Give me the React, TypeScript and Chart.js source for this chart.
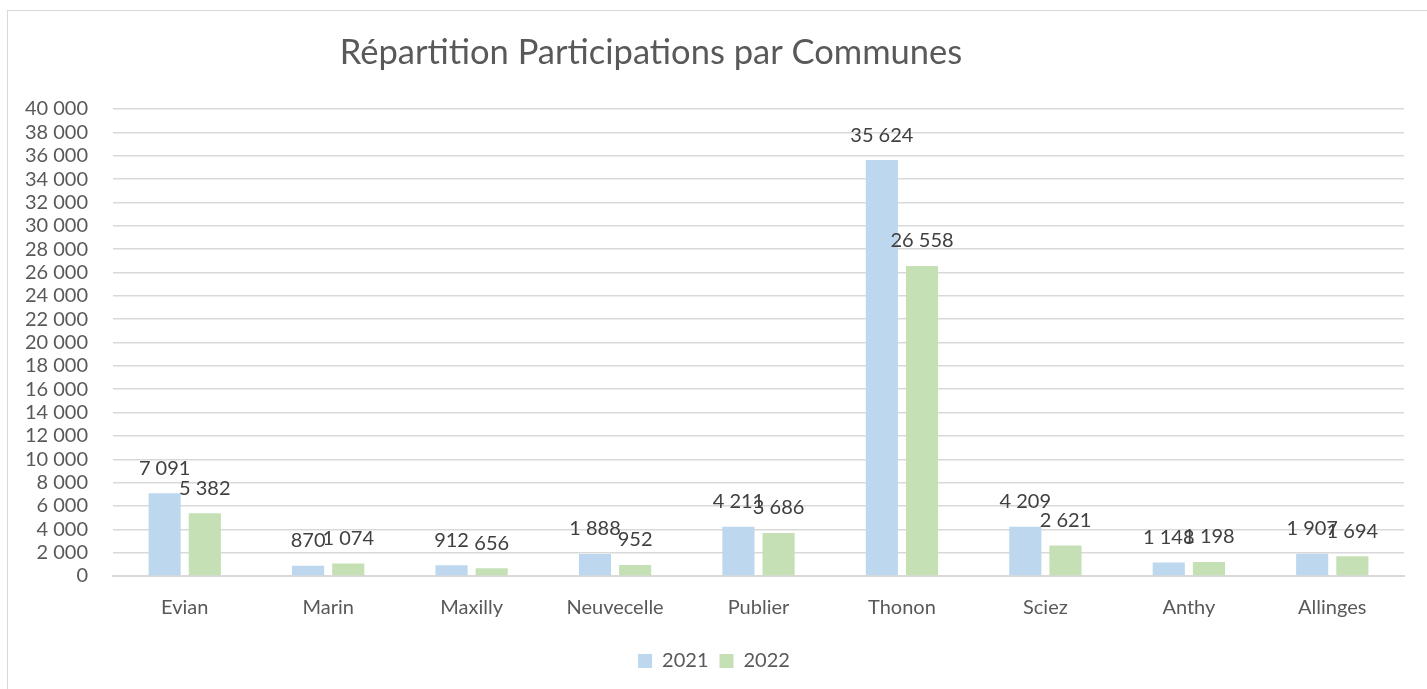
import React, { useEffect, useRef } from "react";
import { Chart, registerables } from "chart.js";

Chart.register(...registerables);

const TITLE = "Répartition Participations par Communes";
const communes = ["Evian", "Marin", "Maxilly", "Neuvecelle", "Publier", "Thonon", "Sciez", "Anthy", "Allinges"];
const values2021 = [7091, 870, 912, 1888, 4211, 35624, 4209, 1148, 1907];
const values2022 = [5382, 1074, 656, 952, 3686, 26558, 2621, 1198, 1694];
const seriesLabels = ["2021", "2022"];
const yMax = 40000;
const yStep = 2000;

const FONT = "Lato, 'Open Sans', sans-serif";

const fmt = (n: number) => String(n).replace(/\B(?=(\d{3})+(?!\d))/g, " ");

const titlePlugin = {
  id: "customTitle",
  afterDraw(chart: any) {
    const ctx = chart.ctx;
    ctx.save();
    ctx.font = `34.5px ${FONT}`;
    ctx.fillStyle = "#595959";
    ctx.textAlign = "center";
    ctx.textBaseline = "middle";
    ctx.fillText(TITLE, 651, 53);
    ctx.restore();
  },
};

const labelPlugin = {
  id: "barValues",
  afterDatasetsDraw(chart: any) {
    const ctx = chart.ctx;
    ctx.save();
    ctx.font = `20px ${FONT}`;
    ctx.fillStyle = "#404040";
    ctx.textAlign = "center";
    ctx.textBaseline = "middle";
    chart.data.datasets.forEach((ds: any, i: number) => {
      const meta = chart.getDatasetMeta(i);
      meta.data.forEach((el: any, j: number) => {
        ctx.fillText(fmt(ds.data[j]), el.x, el.y - 25);
      });
    });
    ctx.restore();
  },
};

export default function App() {
  const ref = useRef<HTMLCanvasElement>(null);
  useEffect(() => {
    if (!ref.current) return;
    const chart = new Chart(ref.current, {
      type: "bar",
      data: {
        labels: communes,
        datasets: [
          { label: seriesLabels[0], data: values2021, backgroundColor: "#bdd7ee" },
          { label: seriesLabels[1], data: values2022, backgroundColor: "#c5e0b4" },
        ],
      },
      options: {
        animation: false,
        responsive: false,
        maintainAspectRatio: false,
        devicePixelRatio: 1,
        layout: { padding: { top: 109, left: 24, right: 23, bottom: 8 } },
        datasets: { bar: { categoryPercentage: 0.56, barPercentage: 0.8 } },
        plugins: {
          title: { display: false },
          tooltip: { enabled: false },
          legend: {
            position: "bottom",
            labels: {
              boxWidth: 14,
              boxHeight: 14,
              padding: 11,
              color: "#595959",
              font: { family: FONT, size: 20 },
            },
          },
        },
        scales: {
          x: {
            grid: { display: false, drawTicks: false },
            border: { display: true, color: "#d9d9d9", width: 2 },
            ticks: { color: "#595959", font: { family: FONT, size: 20 }, padding: 20 },
          },
          y: {
            min: 0,
            max: yMax,
            afterFit: (scale: any) => {
              scale.width = 89;
            },
            grid: { color: "#d9d9d9", lineWidth: 1.5, drawTicks: false },
            border: { display: false },
            ticks: {
              stepSize: yStep,
              autoSkip: false,
              color: "#595959",
              font: { family: FONT, size: 20 },
              padding: 25,
              callback: (v: any) => fmt(Number(v)),
            },
          },
        },
      },
      plugins: [titlePlugin, labelPlugin],
    });
    return () => chart.destroy();
  }, []);

  return (
    <div style={{ position: "fixed", left: 0, top: 0, width: 1427, height: 689, overflow: "hidden", background: "#fff" }}>
      <div
        style={{
          position: "absolute",
          left: 7,
          top: 10,
          width: 1500,
          height: 800,
          border: "1px solid #d9d9d9",
        }}
      />
      <canvas ref={ref} width={1427} height={689} style={{ position: "absolute", left: 0, top: 0 }} />
    </div>
  );
}
